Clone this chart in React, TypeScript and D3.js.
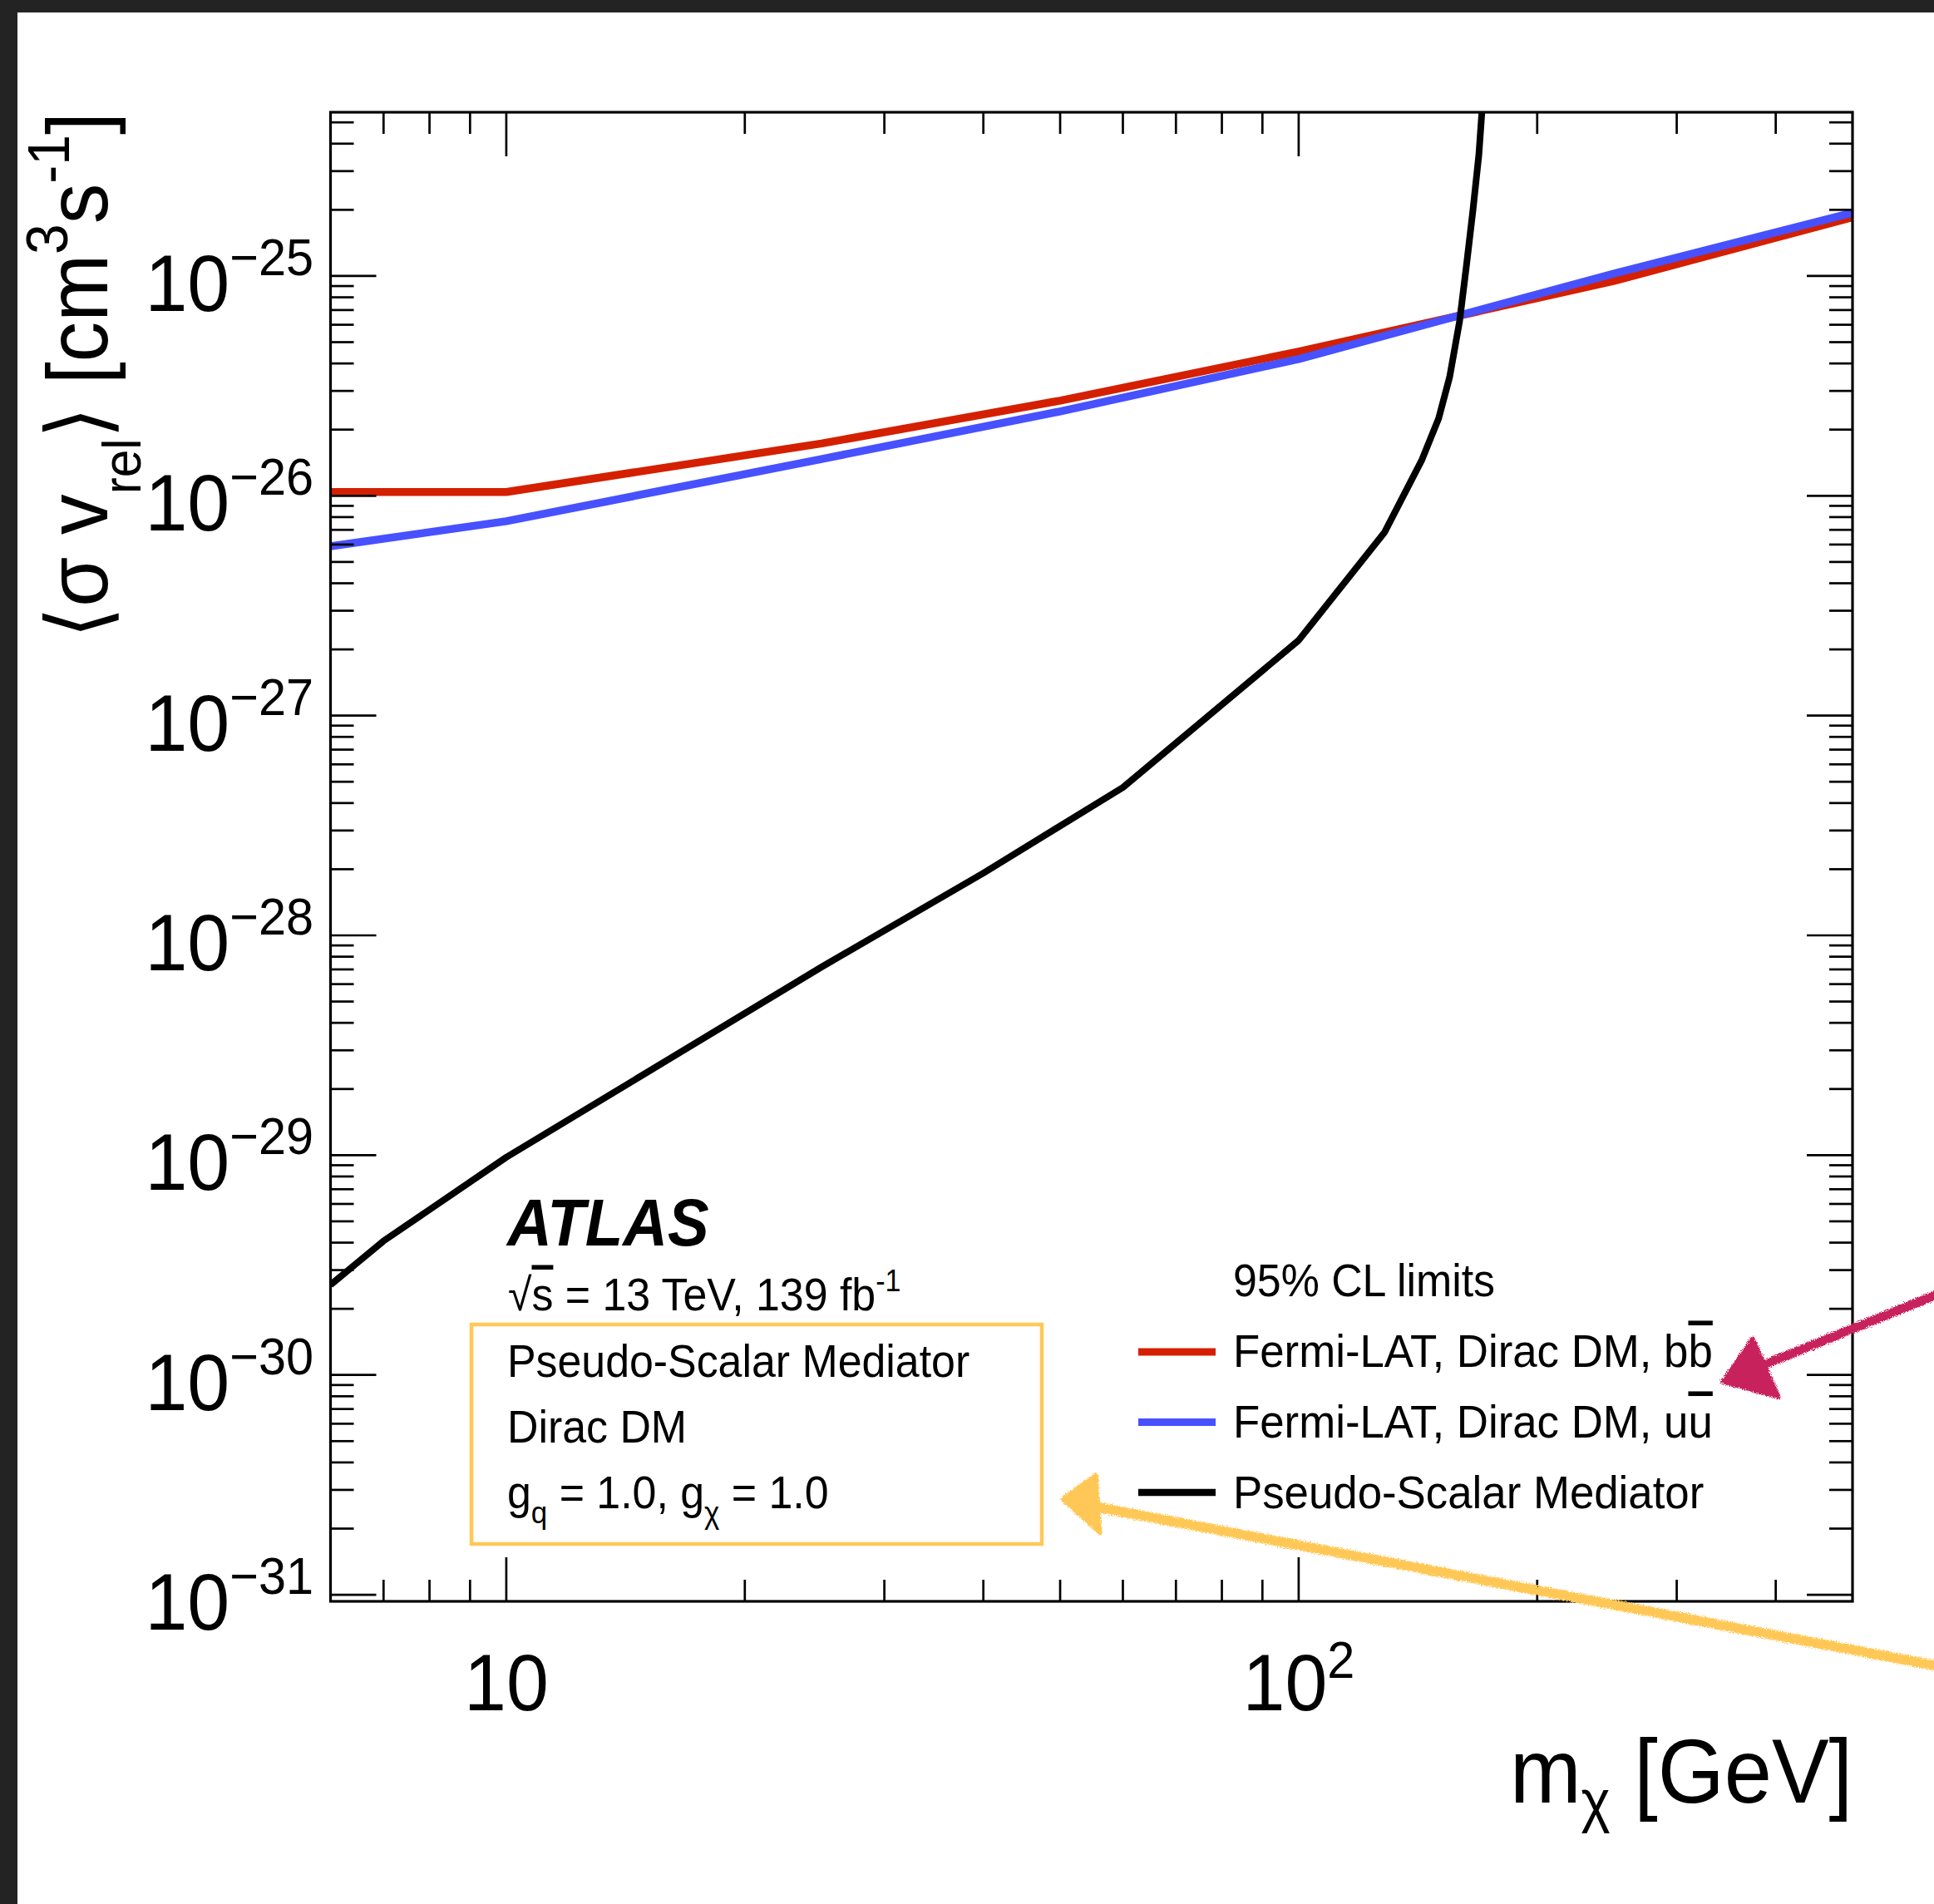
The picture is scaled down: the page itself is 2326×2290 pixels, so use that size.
import React from "react";
import * as d3 from "d3";

const W = 2326;
const H = 2290;
const FONT = "'Liberation Sans', Arimo, Helvetica, Arial, sans-serif";
const SX = 0.943;

// ---------- data ----------
const fermiMass = [6, 10, 25, 50, 100, 250, 500];
const fermiBB = [1.04e-26, 1.04e-26, 1.73e-26, 2.71e-26, 4.53e-26, 9.49e-26, 1.85e-25];
const fermiUU = [5.89e-27, 7.66e-27, 1.47e-26, 2.42e-26, 4.19e-26, 1.026e-25, 1.94e-25];
const psMass = [6, 7, 10, 25, 40, 60, 100, 125, 128.4, 143.1, 150.2, 155.1, 159.6, 162.8, 165.9, 168.8, 170.3, 170.6];
const psLimit = [
  2.57e-30, 4.07e-30, 9.78e-30, 7.18e-29, 1.92e-28, 4.71e-28, 2.2e-27, 6.05e-27, 6.84e-27,
  1.46e-26, 2.25e-26, 3.48e-26, 6.21e-26, 1.11e-25, 1.98e-25, 3.55e-25, 5.56e-25, 6.2e-25,
];

const xDomain = [6, 500];
const yDomain = [Math.pow(10, -31.03), Math.pow(10, -24.255)];
const xMajorTicks = [10, 100];
const xMinorTicks = [7, 8, 9, 20, 30, 40, 50, 60, 70, 80, 90, 200, 300, 400];
const xTickLabels = [
  { value: 10, base: "10", exp: "" },
  { value: 100, base: "10", exp: "2" },
];
const yMajorExps = [-31, -30, -29, -28, -27, -26, -25];
const yMinorMult = [2, 3, 4, 5, 6, 7, 8, 9];

const legendItems = [
  { label: "Fermi-LAT, Dirac DM, b", bar: "b", color: "#d42000" },
  { label: "Fermi-LAT, Dirac DM, u", bar: "u", color: "#4751ff" },
  { label: "Pseudo-Scalar Mediator", bar: "", color: "#000000" },
];

// ---------- layout ----------
const PL = 397.5;
const PR = 2228;
const PT = 135;
const PB = 1926;

const T = ({ x, y, size, anchor = "start", weight = "normal", fstyle = "normal", children }: any) => (
  <text
    transform={`translate(${x},${y}) scale(${SX},1)`}
    fontSize={size}
    textAnchor={anchor}
    fontWeight={weight}
    fontStyle={fstyle}
    fontFamily={FONT}
    fill="#000"
  >
    {children}
  </text>
);

export default function App() {
  const x = d3.scaleLog().domain(xDomain).range([PL, PR]);
  const y = d3.scaleLog().domain(yDomain).range([PB, PT]);
  const line = d3
    .line<[number, number]>()
    .x((d) => x(d[0]))
    .y((d) => y(d[1]));

  const bb = line(d3.zip(fermiMass, fermiBB) as [number, number][]) || "";
  const uu = line(d3.zip(fermiMass, fermiUU) as [number, number][]) || "";
  const ps = line(d3.zip(psMass, psLimit) as [number, number][]) || "";

  const yMinor: number[] = [];
  for (let e = -32; e <= -25; e++) {
    for (const k of yMinorMult) {
      const v = k * Math.pow(10, e);
      if (v > yDomain[0] && v < yDomain[1]) yMinor.push(v);
    }
  }

  const MAJ_Y = 55, MIN_Y = 28, MAJ_X = 53, MIN_X = 26;
  const tickW = 2.7;

  return (
    <svg
      width={W}
      height={H}
      viewBox={`0 0 ${W} ${H}`}
      style={{ position: "absolute", left: 0, top: 0, display: "block", background: "#fff" }}
    >
      <defs>
        <clipPath id="plotclip">
          <rect x={PL} y={PT} width={PR - PL} height={PB - PT} />
        </clipPath>
        <filter id="crayon" x="-20%" y="-20%" width="140%" height="140%">
          <feTurbulence type="fractalNoise" baseFrequency="0.85" numOctaves="2" seed="4" result="noise" />
          <feDisplacementMap in="SourceGraphic" in2="noise" scale="7" xChannelSelector="R" yChannelSelector="G" />
        </filter>
      </defs>
      <rect x={0} y={0} width={W} height={H} fill="#fff" />
      {/* dark screenshot border */}
      <rect x={0} y={0} width={W} height={15} fill="#232323" />
      <rect x={0} y={0} width={21} height={H} fill="#232323" />

      {/* data lines */}
      <g clipPath="url(#plotclip)" fill="none" strokeLinejoin="round">
        <path d={bb} stroke="#d42000" strokeWidth={9.5} />
        <path d={uu} stroke="#4751ff" strokeWidth={9.5} />
        <path d={ps} stroke="#000" strokeWidth={8} />
      </g>

      {/* frame */}
      <rect x={PL} y={PT} width={PR - PL} height={PB - PT} fill="none" stroke="#000" strokeWidth={3.2} />

      {/* ticks */}
      <g stroke="#000" strokeWidth={tickW}>
        {yMajorExps.map((e) => {
          const yy = y(Math.pow(10, e));
          return (
            <g key={"ym" + e}>
              <line x1={PL} x2={PL + MAJ_Y} y1={yy} y2={yy} />
              <line x1={PR} x2={PR - MAJ_Y} y1={yy} y2={yy} />
            </g>
          );
        })}
        {yMinor.map((v, i) => {
          const yy = y(v);
          return (
            <g key={"yn" + i}>
              <line x1={PL} x2={PL + MIN_Y} y1={yy} y2={yy} />
              <line x1={PR} x2={PR - MIN_Y} y1={yy} y2={yy} />
            </g>
          );
        })}
        {xMajorTicks.map((v) => {
          const xx = x(v);
          return (
            <g key={"xm" + v}>
              <line x1={xx} x2={xx} y1={PB} y2={PB - MAJ_X} />
              <line x1={xx} x2={xx} y1={PT} y2={PT + MAJ_X} />
            </g>
          );
        })}
        {xMinorTicks.map((v) => {
          const xx = x(v);
          return (
            <g key={"xn" + v}>
              <line x1={xx} x2={xx} y1={PB} y2={PB - MIN_X} />
              <line x1={xx} x2={xx} y1={PT} y2={PT + MIN_X} />
            </g>
          );
        })}
      </g>

      {/* y tick labels */}
      {yMajorExps.map((e) => (
        <T key={"yl" + e} x={377} y={y(Math.pow(10, e)) + 42} size={97} anchor="end">
          10
          <tspan fontSize={63} dy={-43}>
            {"\u2212" + Math.abs(e)}
          </tspan>
        </T>
      ))}

      {/* x tick labels */}
      {xTickLabels.map((t) => (
        <T key={"xl" + t.value} x={x(t.value)} y={2057} size={97} anchor="middle">
          {t.base}
          {t.exp && (
            <tspan fontSize={63} dy={-39}>
              {t.exp}
            </tspan>
          )}
        </T>
      ))}

      {/* x title */}
      <T x={PR} y={2168} size={109} anchor="end">
        m
        <tspan fontSize={71} dy={22}>
          χ
        </tspan>
        <tspan dy={-22}> [GeV]</tspan>
      </T>

      {/* y title */}
      <text
        transform={`translate(129,${PT}) rotate(-90) scale(${SX},1)`}
        fontSize={103}
        textAnchor="end"
        fontFamily={FONT}
        fill="#000"
      >
        <tspan fontFamily="'DejaVu Sans', sans-serif">⟨</tspan>
        <tspan>σ v</tspan>
        <tspan fontSize={64} dy={40}>
          rel
        </tspan>
        <tspan dy={-40} fontFamily="'DejaVu Sans', sans-serif">
          ⟩
        </tspan>
        <tspan> [cm</tspan>
        <tspan fontSize={70} dy={-48}>
          3
        </tspan>
        <tspan dy={48}>s</tspan>
        <tspan fontSize={70} dy={-46}>
          -1
        </tspan>
        <tspan dy={46}>]</tspan>
      </text>

      {/* ATLAS label */}
      <T x={610} y={1498} size={79} weight="bold" fstyle="italic">
        ATLAS
      </T>
      <T x={611} y={1576} size={55}>
        √<tspan style={{ textDecoration: "overline" }}>s</tspan> = 13 TeV, 139 fb
        <tspan fontSize={36} dy={-23}>
          -1
        </tspan>
      </T>

      {/* highlighted box */}
      <rect x={567} y={1593} width={686} height={264} fill="none" stroke="#ffc857" strokeWidth={4.5} />
      <T x={610} y={1656} size={55}>
        Pseudo-Scalar Mediator
      </T>
      <T x={610} y={1735} size={55}>
        Dirac DM
      </T>
      <T x={610} y={1814} size={55}>
        g
        <tspan fontSize={37} dy={18}>
          q
        </tspan>
        <tspan dy={-18}> = 1.0, g</tspan>
        <tspan fontSize={37} dy={18}>
          χ
        </tspan>
        <tspan dy={-18}> = 1.0</tspan>
      </T>

      {/* legend */}
      <T x={1483} y={1559} size={55}>
        95% CL limits
      </T>
      {legendItems.map((it, i) => {
        const ly = 1626 + i * 84.5;
        return (
          <g key={"lg" + i}>
            <line x1={1369} x2={1462} y1={ly} y2={ly} stroke={it.color} strokeWidth={i === 2 ? 8.5 : 9} />
            <T x={1483} y={1644 + i * 85} size={56}>
              {it.label}
              {it.bar && <tspan style={{ textDecoration: "overline" }}>{it.bar}</tspan>}
            </T>
          </g>
        );
      })}

      {/* hand-drawn annotation arrows */}
      <g filter="url(#crayon)">
        <path d="M2332,1556 L2120,1642" stroke="#c8245c" strokeWidth={11} fill="none" strokeLinecap="round" />
        <path d="M2072,1662 L2108,1610 L2139,1680 Z" fill="#c8245c" stroke="#c8245c" strokeWidth={5} strokeLinejoin="round" />
        <path d="M2332,2004 L1305,1810" stroke="#ffc857" strokeWidth={12} fill="none" strokeLinecap="round" />
        <path d="M1278,1803 L1318,1774 L1323,1844 Z" fill="#ffc857" stroke="#ffc857" strokeWidth={5} strokeLinejoin="round" />
      </g>
    </svg>
  );
}
